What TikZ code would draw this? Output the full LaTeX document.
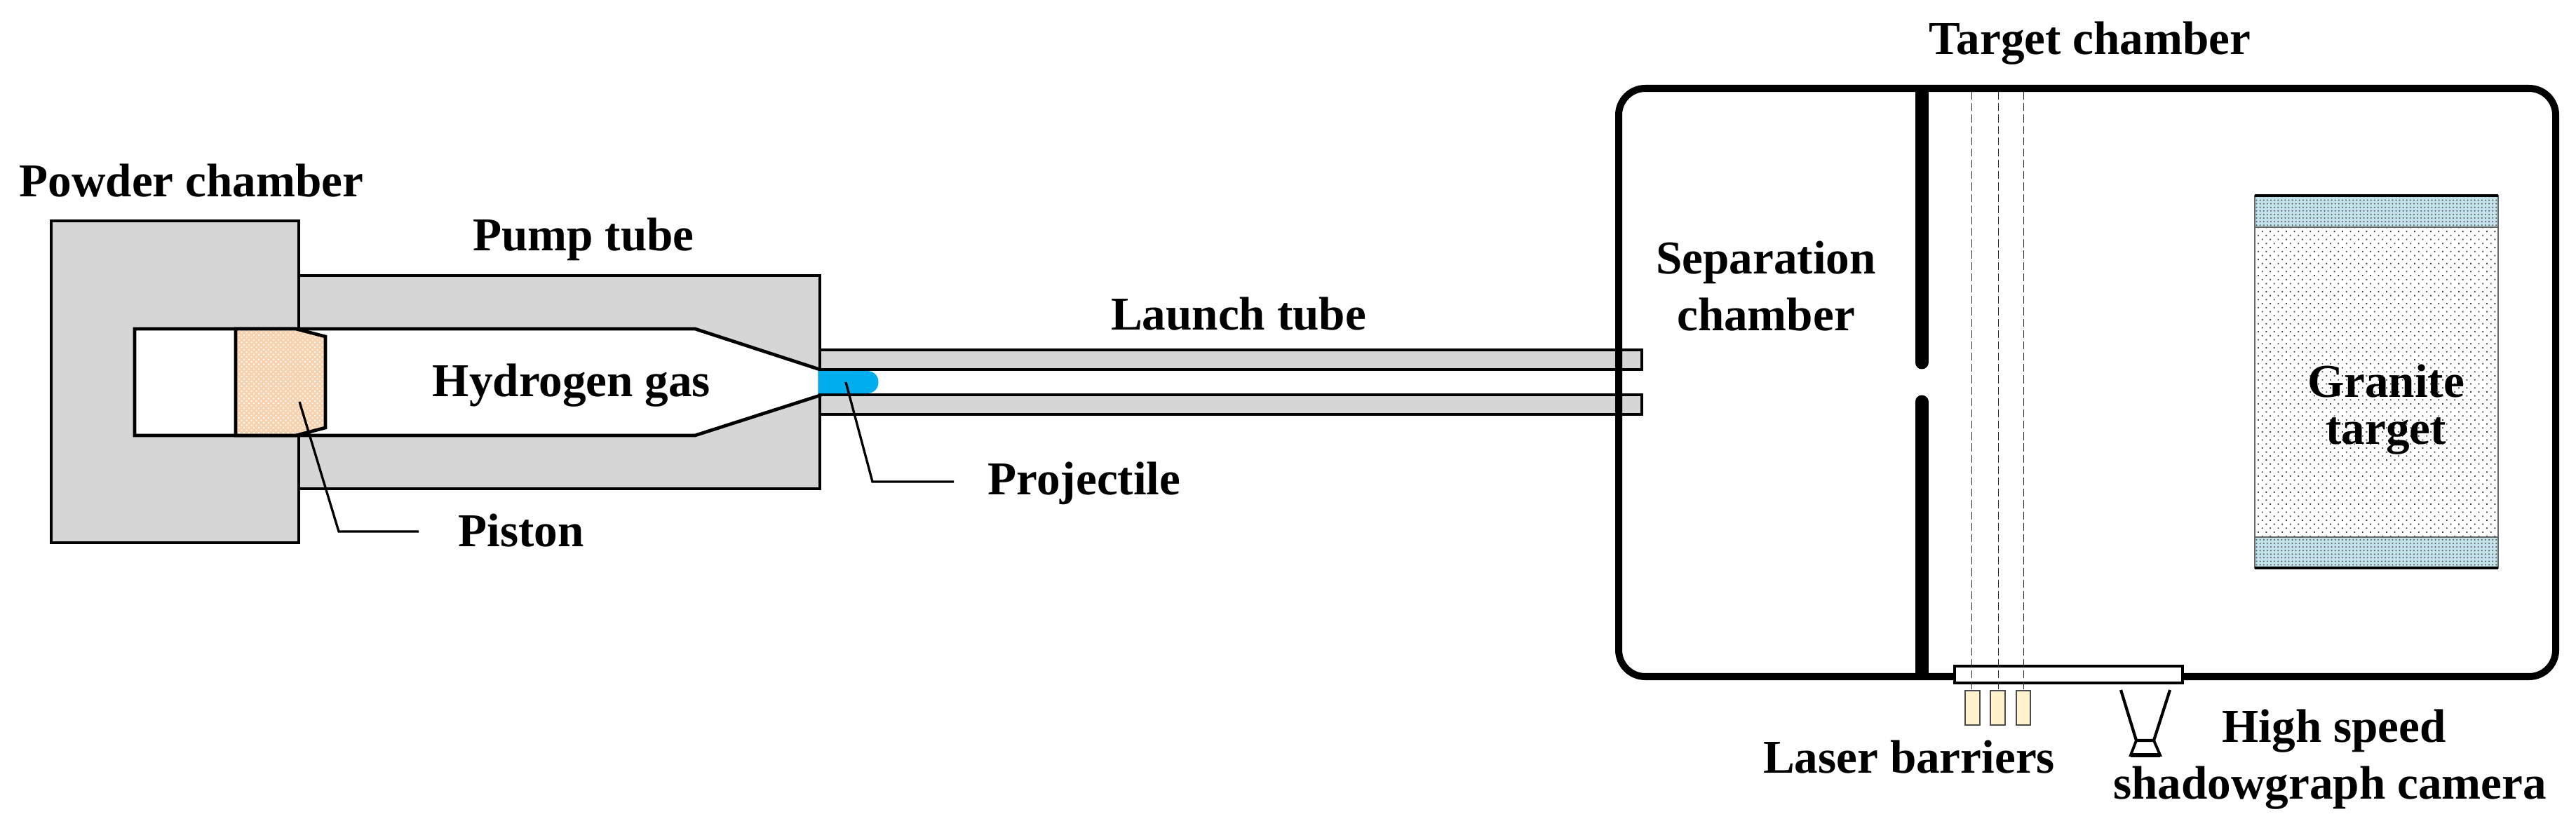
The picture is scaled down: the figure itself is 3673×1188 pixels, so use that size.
\documentclass[tikz,border=0pt]{standalone}
\usepackage{fontspec}
\setmainfont{Liberation Serif}
\usetikzlibrary{patterns.meta}
\definecolor{tubegray}{HTML}{D6D6D6}
\definecolor{pistonfill}{HTML}{F8D2AE}
\definecolor{projblue}{HTML}{00AEEF}
\definecolor{barrierfill}{HTML}{FFF2CC}
\definecolor{clampfill}{HTML}{C2E2EC}
\tikzset{
  x=0.01cm,y=-0.01cm,
  outline/.style={draw=black,line width=1.35pt,line join=miter},
  tubebody/.style={outline,fill=tubegray},
  leader/.style={draw=black,line width=0.95pt},
  labeltext/.style={font=\fontsize{19.1}{23}\selectfont\bfseries,inner sep=0pt,anchor=base,text=black},
  beam/.style={draw=black!85,line width=0.3pt,dash pattern=on 3.2pt off 1.4pt},
  wall/.style={draw=black,line width=5.4pt,line cap=round},
  barrier/.style={draw=black!70,line width=0.6pt,fill=barrierfill},
  clamp/.style={draw=black!60,line width=0.6pt,preaction={fill=clampfill},
    preaction={pattern={Dots[distance=1.45pt,radius=0.32pt]},pattern color=black!65}},
  granite/.style={draw=black!60,line width=0.6pt,preaction={fill=white},
    preaction={pattern={Dots[distance=2.3pt,angle=45,radius=0.36pt]},pattern color=black!75}},
  pistonbody/.style={outline,preaction={fill=pistonfill},
    preaction={pattern={Dots[distance=1.4pt,angle=45,radius=0.38pt]},pattern color=white}}
}
\begin{document}
\begin{tikzpicture}
\useasboundingbox (0,0) rectangle (3673,1188);
% launch tube
\path[tubebody] (1169,499) rectangle (2341,527);
\path[tubebody] (1169,563) rectangle (2341,591);
% target chamber
\draw[line width=2.85pt,rounded corners=0.38cm] (2308,126) rectangle (3644,965);
\path[wall,line cap=butt] (2740,126) -- (2740,140);
\path[wall] (2740,135) -- (2740,517);
\path[wall] (2740,573) -- (2740,960);
% pump tube and powder chamber
\path[tubebody] (426,393) rectangle (1169,697);
\path[tubebody] (73,315) rectangle (426,774);
% bore
\path[outline,fill=white] (192,469) -- (991,469) -- (1169,527) -- (1169,564) -- (991,621) -- (192,621) -- cycle;
% piston
\path[pistonbody] (336,469) -- (422,469) -- (464,480) -- (464,610) -- (422,621) -- (336,621) -- cycle;
% projectile
\fill[projblue] (1167,529) -- (1236,529) .. controls (1258,529) and (1258,561) .. (1236,561) -- (1167,561) -- cycle;
% granite target
\path[granite] (3215,279) rectangle (3562,810);
\path[clamp] (3215,279) rectangle (3562,324);
\path[clamp] (3215,766) rectangle (3562,810);
\draw[line width=1.3pt] (3215,279) -- (3562,279);
\draw[line width=1.3pt] (3215,810) -- (3562,810);
% window
\draw[line width=1.1pt,fill=white] (2787,950) rectangle (3112,974);
% laser barriers
\path[barrier] (2802,985) rectangle (2823,1034);
\path[barrier] (2838,985) rectangle (2859,1034);
\path[barrier] (2875,985) rectangle (2895,1034);
% beams
\coordinate (b1t) at (2811,131); \coordinate (b1b) at (2811,985);
\coordinate (b2t) at (2849,131); \coordinate (b2b) at (2849,985);
\coordinate (b3t) at (2885,131); \coordinate (b3b) at (2885,985);
\path[beam] (b1t) -- (b1b);
\path[beam] (b2t) -- (b2b);
\path[beam] (b3t) -- (b3b);
% camera
\draw[line width=1.2pt,line join=miter] (3024,984) -- (3046,1056) -- (3071,1056) -- (3094,984);
\draw[line width=1.1pt,line join=miter] (3046,1056) -- (3038,1077) -- (3080,1077) -- (3071,1056);
\draw[line width=1.6pt] (3038,1077) -- (3080,1077);
% leaders
\coordinate (pistonA) at (427,573);
\coordinate (pistonB) at (483,758);
\coordinate (pistonC) at (597,758);
\path[leader] (pistonA) -- (pistonB) -- (pistonC);
\coordinate (projA) at (1206,545);
\coordinate (projB) at (1244,687);
\coordinate (projC) at (1360,687);
\path[leader] (projA) -- (projB) -- (projC);
% labels
\node[labeltext] (powder) at (273,280) {Powder chamber};
\node[labeltext] (pump) at (832,357) {Pump tube};
\node[labeltext] (launch) at (1766,470) {Launch tube};
\node[labeltext] (hydrogen) at (815,565) {Hydrogen gas};
\node[labeltext] (pistonlabel) at (743,779) {Piston};
\node[labeltext] (projectile) at (1546,705) {Projectile};
\node[labeltext] (target) at (2980,78) {Target chamber};
\node[labeltext] (sep1) at (2518,390) {Separation};
\node[labeltext] (sep2) at (2518,471) {chamber};
\node[labeltext] (gran1) at (3402,566) {Granite};
\node[labeltext] (gran2) at (3402,633) {target};
\node[labeltext] (laser) at (2722,1102) {Laser barriers};
\node[labeltext] (high) at (3328,1058) {High speed};
\node[labeltext] (shadow) at (3322,1139) {shadowgraph camera};
\end{tikzpicture}
\end{document}
